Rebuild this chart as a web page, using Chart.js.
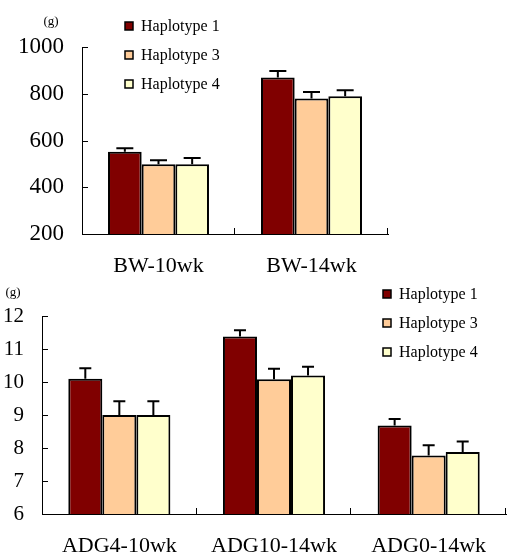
<!DOCTYPE html>
<html>
<head>
<meta charset="utf-8">
<script src="https://cdn.jsdelivr.net/npm/chart.js@4.4.1/dist/chart.umd.min.js"></script>
<style>
  body { margin: 0; background: #fff; }
  canvas { position: absolute; left: 0; }
</style>
</head>
<body>
<canvas id="bwChart" width="510" height="280" style="top:0"></canvas>
<canvas id="adgChart" width="510" height="274" style="top:280px"></canvas>
<script>
const haplotypes = ['Haplotype 1', 'Haplotype 3', 'Haplotype 4'];
const barColors = ['#800000', '#FFCC99', '#FFFFCC'];

// body weight (g)
const bwLabels = ['BW-10wk', 'BW-14wk'];
const bwHap1 = [552, 870];
const bwHap3 = [498, 780];
const bwHap4 = [498, 789];
const bwErr1 = [15, 27];
const bwErr3 = [18, 28];
const bwErr4 = [27, 26];
const bwTicks = [200, 400, 600, 800, 1000];

// average daily gain (g)
const adgLabels = ['ADG4-10wk', 'ADG10-14wk', 'ADG0-14wk'];
const adgHap1 = [10.1, 11.38, 8.68];
const adgHap3 = [9.0, 10.08, 7.77];
const adgHap4 = [9.0, 10.2, 7.88];
const adgErr1 = [0.32, 0.19, 0.2];
const adgErr3 = [0.42, 0.32, 0.31];
const adgErr4 = [0.42, 0.26, 0.32];
const adgTicks = [6, 7, 8, 9, 10, 11, 12];

Chart.defaults.font.family = "'Liberation Serif', 'Times New Roman', serif";
Chart.defaults.color = '#000';

// error bars, inward ticks, legend and unit label
const extrasPlugin = {
  id: 'extras',
  afterDatasetsDraw(chart, args, opts) {
    const ctx = chart.ctx;
    const y = chart.scales.y;
    ctx.save();
    ctx.strokeStyle = '#000';
    ctx.lineWidth = 2;
    chart.data.datasets.forEach((ds, i) => {
      const meta = chart.getDatasetMeta(i);
      meta.data.forEach((bar, j) => {
        const top = y.getPixelForValue(ds.data[j] + ds.errors[j]);
        ctx.beginPath();
        ctx.moveTo(bar.x, bar.y);
        ctx.lineTo(bar.x, top);
        ctx.moveTo(bar.x - opts.cap / 2, top);
        ctx.lineTo(bar.x + opts.cap / 2, top);
        ctx.stroke();
      });
    });
    ctx.restore();
  },
  afterDraw(chart, args, opts) {
    const ctx = chart.ctx;
    const x = chart.scales.x, y = chart.scales.y;
    ctx.save();
    ctx.strokeStyle = '#000';
    ctx.lineWidth = 1;
    // y ticks pointing inside
    y.ticks.forEach(t => {
      const py = Math.round(y.getPixelForValue(t.value)) + 0.5;
      ctx.beginPath();
      ctx.moveTo(x.left, py);
      ctx.lineTo(x.left + 6, py);
      ctx.stroke();
    });
    // category boundary ticks pointing up
    const n = chart.data.labels.length;
    for (let i = 1; i <= n; i++) {
      const px = Math.round(x.left + i * (x.right - x.left) / n) - 0.5;
      ctx.beginPath();
      ctx.moveTo(px, y.bottom);
      ctx.lineTo(px, y.bottom - 6);
      ctx.stroke();
    }
    // legend
    ctx.font = "16px 'Liberation Serif', serif";
    ctx.textBaseline = 'middle';
    ctx.textAlign = 'left';
    chart.data.datasets.forEach((ds, i) => {
      const ly = opts.legendY + i * opts.legendGap;
      ctx.fillStyle = ds.backgroundColor;
      ctx.fillRect(opts.legendX, ly - 4, 8, 8);
      ctx.lineWidth = 1.5;
      ctx.strokeRect(opts.legendX, ly - 4, 8, 8);
      ctx.fillStyle = '#000';
      ctx.fillText(ds.label, opts.legendX + 16, ly + 1);
    });
    // unit
    ctx.font = "13px 'Liberation Serif', serif";
    ctx.textAlign = 'center';
    ctx.fillText('(g)', opts.unitX, opts.unitY);
    ctx.restore();
  }
};

function makeDatasets(series, errors) {
  return series.map((data, i) => ({
    label: haplotypes[i],
    data: data,
    errors: errors[i],
    backgroundColor: barColors[i],
    borderColor: '#000',
    borderWidth: 2,
    categoryPercentage: 0.66,
    barPercentage: 1.0
  }));
}

function makeChart(id, labels, datasets, yMin, yMax, step, tickVals, axisW, xAxisH, padding, tickSize, extras) {
  return new Chart(document.getElementById(id), {
    type: 'bar',
    data: { labels: labels, datasets: datasets },
    plugins: [extrasPlugin],
    options: {
      responsive: false,
      animation: false,
      layout: { padding: padding },
      plugins: {
        legend: { display: false },
        tooltip: { enabled: false },
        extras: extras
      },
      scales: {
        x: {
          grid: { display: false, drawTicks: false },
          border: { display: true, color: '#000', width: 1 },
          ticks: { font: { size: 22 }, padding: 19, maxRotation: 0, autoSkip: false },
          afterFit: s => { s.height = xAxisH; }
        },
        y: {
          min: yMin,
          max: yMax,
          grid: { display: false, drawTicks: false },
          border: { display: true, color: '#000', width: 1 },
          ticks: { font: { size: tickSize }, padding: 18, stepSize: step,
            callback: v => tickVals.includes(v) ? v : null },
          afterFit: s => { s.width = axisW; }
        }
      }
    }
  });
}

makeChart('bwChart', bwLabels,
  makeDatasets([bwHap1, bwHap3, bwHap4], [bwErr1, bwErr3, bwErr4]),
  200, 1000, 200, bwTicks, 82, 46,
  { left: 0, right: 122, top: 47, bottom: 0 }, 23,
  { cap: 17, legendX: 125, legendY: 26, legendGap: 29, unitX: 51, unitY: 22 });

makeChart('adgChart', adgLabels,
  makeDatasets([adgHap1, adgHap3, adgHap4], [adgErr1, adgErr3, adgErr4]),
  6, 12, 1, adgTicks, 42, 40,
  { left: 0, right: 4, top: 36, bottom: 0 }, 21,
  { cap: 12, legendX: 383, legendY: 14, legendGap: 29, unitX: 13, unitY: 13 });
</script>
</body>
</html>
